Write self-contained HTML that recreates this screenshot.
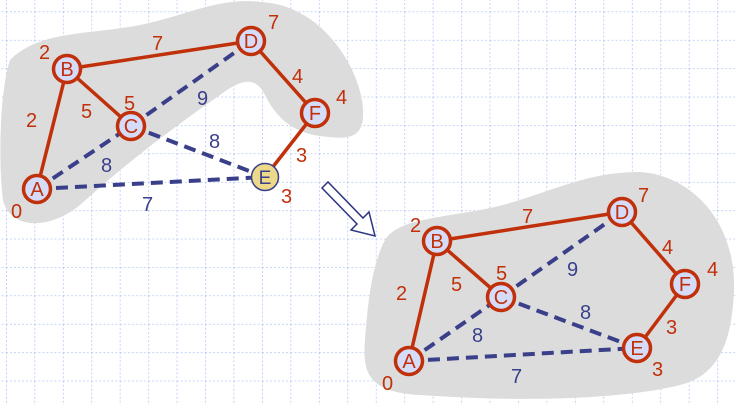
<!DOCTYPE html>
<html><head><meta charset="utf-8"><style>
html,body{margin:0;padding:0;background:#fff;}
svg{display:block;}
text{font-family:"Liberation Sans","DejaVu Sans",sans-serif;font-size:20px;}
.n{font-size:19px;}
.r{fill:#c0300a;}
.b{fill:#3a3f8a;}
</style></head><body>
<svg width="736" height="405" viewBox="0 0 736 405" xmlns="http://www.w3.org/2000/svg">
<defs>
<pattern id="g" x="6" y="11.5" width="28.45" height="28.4" patternUnits="userSpaceOnUse">
<path d="M0 0H28.45M0 0V28.4" stroke="#a9bdf0" stroke-width="1.3" stroke-dasharray="2 2" fill="none"/>
</pattern>
</defs>
<rect width="736" height="405" fill="url(#g)"/>
<path d="M10 60 C40 30 90 35 140 25 C190 15 220 -5 270 3 C320 10 355 60 362 100 C368 140 350 140 320 136 C290 132 275 115 265 95 C255 75 240 80 220 95 C170 130 130 160 80 205 C50 230 10 230 3 200 C-2 160 0 90 10 60 Z" fill="#dcdcdc"/>
<path d="M385 240 C400 215 460 218 510 203 C560 188 590 172 640 172 C690 175 736 220 734 290 C732 340 720 375 680 385 C620 400 520 402 420 395 C370 392 362 375 365 340 C368 300 372 265 385 240 Z" fill="#dcdcdc"/>
<path d="M322 188 L328 182 L363 218 L369 212 L375 236 L351 230 L357 224 Z" fill="#fff" stroke="#2c3580" stroke-width="1.5"/>
<g stroke-width="4" fill="none">
<g stroke="#3a3f8a" stroke-dasharray="12 7">
<line x1="37" y1="189" x2="131" y2="126"/>
<line x1="131" y1="126" x2="251" y2="41"/>
<line x1="131" y1="126" x2="265" y2="177"/>
<line x1="37" y1="189" x2="265" y2="177"/>
</g>
<g stroke="#c0300a" stroke-width="3.5">
<line x1="37" y1="189" x2="67" y2="69"/>
<line x1="67" y1="69" x2="251" y2="41"/>
<line x1="67" y1="69" x2="131" y2="126"/>
<line x1="251" y1="41" x2="315" y2="113"/>
<line x1="315" y1="113" x2="265" y2="177"/>
</g>
<g stroke="#3a3f8a" stroke-dasharray="12 7">
<line x1="409" y1="361" x2="501" y2="297"/>
<line x1="501" y1="297" x2="622" y2="212"/>
<line x1="501" y1="297" x2="637" y2="348"/>
<line x1="409" y1="361" x2="637" y2="348"/>
</g>
<g stroke="#c0300a" stroke-width="3.5">
<line x1="409" y1="361" x2="437" y2="241"/>
<line x1="437" y1="241" x2="622" y2="212"/>
<line x1="437" y1="241" x2="501" y2="297"/>
<line x1="622" y1="212" x2="685" y2="284"/>
<line x1="685" y1="284" x2="637" y2="348"/>
</g>
</g>
<g fill="#d4dcfa" stroke="#c0300a" stroke-width="3.5">
<circle cx="37" cy="189" r="13.5"/><circle cx="67" cy="69" r="13.5"/><circle cx="131" cy="126" r="13.5"/>
<circle cx="251" cy="41" r="13.5"/><circle cx="315" cy="113" r="13.5"/>
<circle cx="409" cy="361" r="13.5"/><circle cx="437" cy="241" r="13.5"/><circle cx="501" cy="297" r="13.5"/>
<circle cx="622" cy="212" r="13.5"/><circle cx="685" cy="284" r="13.5"/><circle cx="637" cy="348" r="13.5"/>
</g>
<circle cx="265" cy="177" r="13.5" fill="#ecd98a" stroke="#3a3f8a" stroke-width="1.5"/>
<g text-anchor="middle" class="r n">
<text x="37" y="196">A</text><text x="67" y="76">B</text><text x="131" y="133">C</text><text x="251" y="48">D</text><text x="315" y="120">F</text>
<text x="409" y="368">A</text><text x="437" y="248">B</text><text x="501" y="304">C</text><text x="622" y="219">D</text><text x="685" y="291">F</text><text x="637" y="355">E</text>
</g>
<text x="265" y="184" text-anchor="middle" class="b n">E</text>
<g class="r">
<text x="39" y="59">2</text><text x="152" y="50">7</text><text x="26" y="127">2</text><text x="81" y="118">5</text><text x="124" y="110">5</text>
<text x="268" y="29">7</text><text x="292" y="83">4</text><text x="336" y="104">4</text><text x="296" y="162">3</text><text x="281" y="203">3</text><text x="11" y="218">0</text>
<text x="410" y="232">2</text><text x="522" y="223">7</text><text x="396" y="300">2</text><text x="451" y="291">5</text><text x="496" y="280">5</text>
<text x="638" y="202">7</text><text x="662" y="254">4</text><text x="707" y="276">4</text><text x="666" y="334">3</text><text x="652" y="376">3</text><text x="382" y="390">0</text>
</g>
<g class="b">
<text x="197" y="105">9</text><text x="209" y="148">8</text><text x="101" y="172">8</text><text x="142" y="211">7</text>
<text x="567" y="276">9</text><text x="580" y="319">8</text><text x="472" y="342">8</text><text x="511" y="383">7</text>
</g>
</svg>
</body></html>
